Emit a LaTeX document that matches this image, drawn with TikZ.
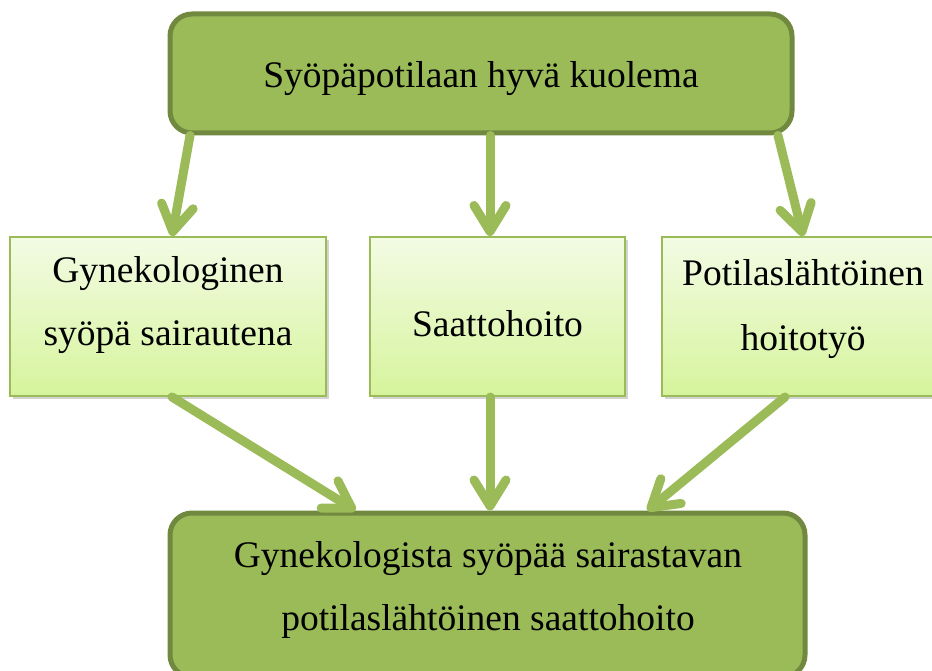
\documentclass[tikz,border=0pt]{standalone}
\usepackage{fontspec}
\setmainfont{Liberation Serif}
\usetikzlibrary{arrows.meta,shadows,calc}
\definecolor{olive}{HTML}{9BBB59}
\definecolor{olivedark}{HTML}{71893F}
\definecolor{palegreen}{HTML}{F3FBE4}
\definecolor{limegreen}{HTML}{D6F49C}
\tikzset{
  mainbox/.style={draw=olivedark, line width=5pt, fill=olive, rounded corners=22pt,
    inner sep=0pt},
  subbox/.style={draw=olive, line width=2pt, top color=palegreen, bottom color=limegreen,
    inner sep=0pt, drop shadow={shadow xshift=3pt, shadow yshift=-3pt, opacity=0.35}},
  label/.style={anchor=base, font=\fontsize{37.5}{63}\selectfont, inner sep=0pt},
  arr/.style={draw=olive, line width=9pt, line cap=round,
    -{Straight Barb[length=26pt, width=32pt, round]}},
}
\begin{document}
\begin{tikzpicture}[x=1pt, y=-1pt]
  \useasboundingbox (0,0) rectangle (932,671);
  % boxes
  \node[mainbox, minimum width=622pt, minimum height=119pt] (top) at (481,73.5) {};
  \node[subbox, minimum width=316pt, minimum height=159pt] (left) at (168,316.5) {};
  \node[subbox, minimum width=255pt, minimum height=159pt] (mid) at (497.5,316.5) {};
  \node[subbox, minimum width=282pt, minimum height=159pt] (right) at (803,316.5) {};
  \node[mainbox, minimum width=635pt, minimum height=164pt] (bottom) at (487.5,595) {};
  % texts, one node per line, placed on their baselines
  \node[label] (ttop) at (481,88) {Syöpäpotilaan hyvä kuolema};
  \node[label] (tleft1) at (168,283) {Gynekologinen};
  \node[label] (tleft2) at (168,345) {syöpä sairautena};
  \node[label] (tmid) at (497.5,336) {Saattohoito};
  \node[label] (tright1) at (803,286) {Potilaslähtöinen};
  \node[label] (tright2) at (803,350) {hoitotyö};
  \node[label] (tbottom1) at (488,567) {Gynekologista syöpää sairastavan};
  \node[label] (tbottom2) at (488,630) {potilaslähtöinen saattohoito};
  % connectors
  \draw[arr] ([xshift=-291pt]top.south) -- ([xshift=4pt]left.north);
  \draw[arr] ([xshift=9pt]top.south) -- ([xshift=-7.5pt]mid.north);
  \draw[arr] ([xshift=297pt]top.south) -- (right.north);
  \draw[arr] ([xshift=4pt]left.south) -- ([xshift=-132pt]bottom.north);
  \draw[arr] ([xshift=-7.5pt]mid.south) -- ([xshift=2.5pt]bottom.north);
  \draw[arr] ([xshift=-18pt]right.south) -- ([xshift=160pt]bottom.north);
\end{tikzpicture}
\end{document}
